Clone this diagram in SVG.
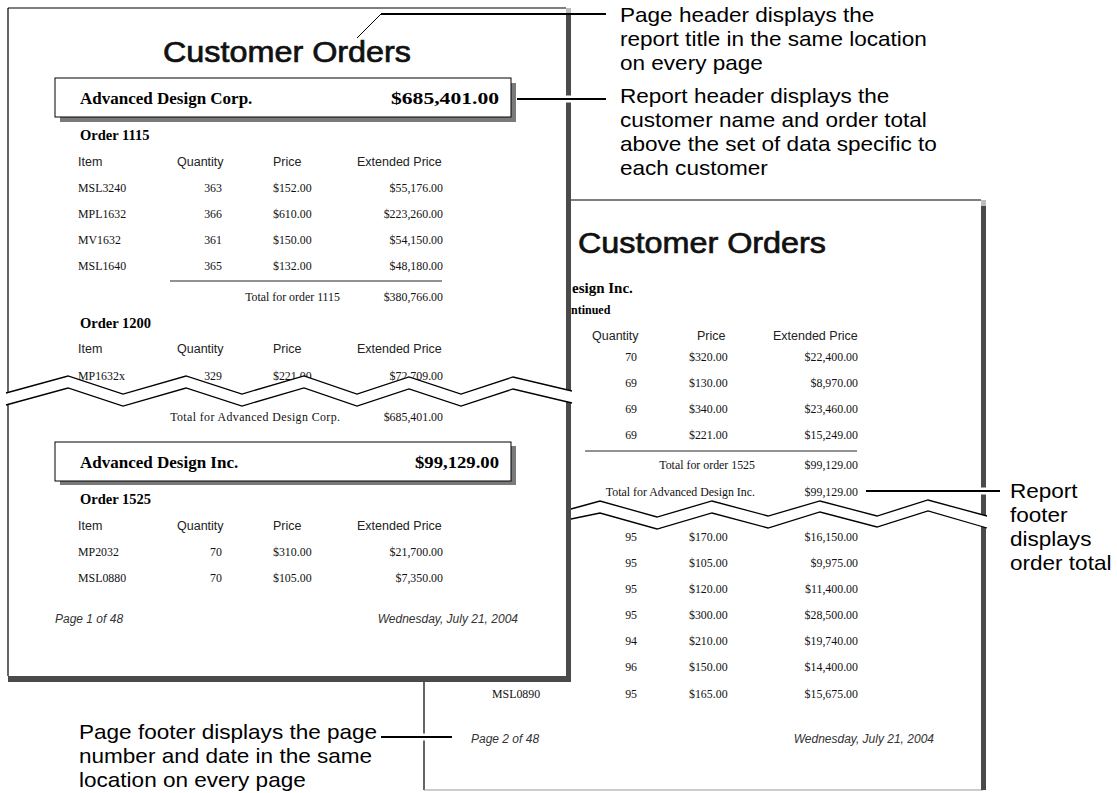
<svg xmlns="http://www.w3.org/2000/svg" width="1117" height="793" viewBox="0 0 1117 793">
<style>
.pg{fill:#fff}
.brd{stroke:#000;stroke-width:1.2;fill:none}
.shd{fill:#4a4a4a}
.lt{fill:#bdbdbd}
.title{font-family:"Liberation Sans",Arial,sans-serif;font-size:29px;fill:#111;stroke:#111;stroke-width:0.7}
.hdr{font-family:"Liberation Serif","Times New Roman",serif;font-weight:bold;font-size:17px;fill:#000}
.ord{font-family:"Liberation Serif","Times New Roman",serif;font-weight:bold;font-size:14.5px;fill:#000}
.cont{font-family:"Liberation Serif","Times New Roman",serif;font-weight:bold;font-size:12px;fill:#000}
.col{font-family:"Liberation Sans",Arial,sans-serif;font-size:12.5px;fill:#222}
.dat{font-family:"Liberation Serif","Times New Roman",serif;font-size:13.5px;fill:#111}
.e{text-anchor:end}
.ft{font-family:"Liberation Sans",Arial,sans-serif;font-style:italic;font-size:12px;fill:#333}
.rule{stroke:#6e6e6e;stroke-width:1.6}
.zz{fill:none;stroke:#000;stroke-width:1.3}
.gap{fill:#fff;stroke:none}
.box{fill:#fff;stroke:#000;stroke-width:1}
.bsh{fill:#7a7a7a}
.call{font-family:"Liberation Sans",Arial,sans-serif;font-size:20.5px;fill:#000}
.cl{stroke:#000;stroke-width:1.8;fill:none}
.halo{stroke:#fff;stroke-width:7;fill:none}
</style>

<g id="page2">
  <rect class="pg" x="424" y="200" width="557" height="590"/>
  <path class="brd" d="M424,200 H981 M424,200 V790"/>
  <line x1="424" y1="790" x2="983" y2="790" stroke="#9a9a9a" stroke-width="1.2"/>
  <rect class="lt" x="981" y="200" width="5" height="6"/>
  <rect class="shd" x="981" y="206" width="5" height="584"/>
  <text class="title" x="578" y="253" textLength="248" lengthAdjust="spacingAndGlyphs">Customer Orders</text>
  <text class="ord" x="572" y="293" style="font-size:15px">esign Inc.</text>
  <text class="cont" x="571" y="314">ntinued</text>
  <text class="col" x="592" y="340">Quantity</text>
  <text class="col" x="697" y="340">Price</text>
  <text class="col" x="773" y="340">Extended Price</text>
  <g class="dat" transform="scale(0.88,1)">
    <text class="e" x="723.86" y="361">70</text><text x="782.95" y="361">$320.00</text><text class="e" x="975" y="361">$22,400.00</text>
    <text class="e" x="723.86" y="387">69</text><text x="782.95" y="387">$130.00</text><text class="e" x="975" y="387">$8,970.00</text>
    <text class="e" x="723.86" y="413">69</text><text x="782.95" y="413">$340.00</text><text class="e" x="975" y="413">$23,460.00</text>
    <text class="e" x="723.86" y="439">69</text><text x="782.95" y="439">$221.00</text><text class="e" x="975" y="439">$15,249.00</text>
    <text class="e" x="857.95" y="469">Total for order 1525</text><text class="e" x="975" y="469">$99,129.00</text>
    <text class="e" x="857.95" y="496">Total for Advanced Design Inc.</text><text class="e" x="975" y="496">$99,129.00</text>
    <text class="e" x="723.86" y="541">95</text><text x="782.95" y="541">$170.00</text><text class="e" x="975" y="541">$16,150.00</text>
    <text class="e" x="723.86" y="567">95</text><text x="782.95" y="567">$105.00</text><text class="e" x="975" y="567">$9,975.00</text>
    <text class="e" x="723.86" y="593">95</text><text x="782.95" y="593">$120.00</text><text class="e" x="975" y="593">$11,400.00</text>
    <text class="e" x="723.86" y="619">95</text><text x="782.95" y="619">$300.00</text><text class="e" x="975" y="619">$28,500.00</text>
    <text class="e" x="723.86" y="645">94</text><text x="782.95" y="645">$210.00</text><text class="e" x="975" y="645">$19,740.00</text>
    <text class="e" x="723.86" y="671">96</text><text x="782.95" y="671">$150.00</text><text class="e" x="975" y="671">$14,400.00</text>
    <text x="559.09" y="698">MSL0890</text><text class="e" x="723.86" y="698">95</text><text x="782.95" y="698">$165.00</text><text class="e" x="975" y="698">$15,675.00</text>
  </g>
  <line class="rule" x1="585" y1="451" x2="857" y2="451"/>
  <text class="ft" x="471" y="743">Page 2 of 48</text>
  <text class="ft e" x="934" y="743">Wednesday, July 21, 2004</text>
  <polygon class="gap" points="571,509 600,501 657,517 712,501 768,516 820,501 877,516 928,500 988,516 988,528 928,511 877,527 820,512 768,528 712,513 657,529 600,513 571,519"/>
  <polyline class="zz" points="571,509 600,501 657,517 712,501 768,516 820,501 877,516 928,500 987,516"/>
  <polyline class="zz" points="571,519 600,513 657,529 712,513 768,528 820,512 877,527 928,511 987,528"/>
</g>

<g id="page1">
  <rect class="pg" x="8" y="8" width="558" height="668"/>
  <path class="brd" d="M8,8 H566 M8,8 V676"/>
  <rect class="lt" x="566" y="8" width="5" height="6"/>
  <rect class="shd" x="566" y="14" width="5" height="668"/>
  <rect class="shd" x="8" y="676" width="563" height="6"/>
  <text class="title" x="163" y="62" textLength="248" lengthAdjust="spacingAndGlyphs">Customer Orders</text>
  <rect class="bsh" x="60" y="83" width="456" height="39"/>
  <rect class="box" x="55" y="78" width="456" height="39"/>
  <text class="hdr" x="80" y="104">Advanced Design Corp.</text>
  <text class="hdr e" x="499" y="104" textLength="108" lengthAdjust="spacingAndGlyphs">$685,401.00</text>
  <text class="ord" x="80" y="140">Order 1115</text>
  <text class="col" x="78" y="166">Item</text>
  <text class="col" x="177" y="166">Quantity</text>
  <text class="col" x="273" y="166">Price</text>
  <text class="col" x="357" y="166">Extended Price</text>
  <g class="dat" transform="scale(0.88,1)">
    <text x="88.64" y="192">MSL3240</text><text class="e" x="252.27" y="192">363</text><text x="310.23" y="192">$152.00</text><text class="e" x="503.41" y="192">$55,176.00</text>
    <text x="88.64" y="218">MPL1632</text><text class="e" x="252.27" y="218">366</text><text x="310.23" y="218">$610.00</text><text class="e" x="503.41" y="218">$223,260.00</text>
    <text x="88.64" y="244">MV1632</text><text class="e" x="252.27" y="244">361</text><text x="310.23" y="244">$150.00</text><text class="e" x="503.41" y="244">$54,150.00</text>
    <text x="88.64" y="270">MSL1640</text><text class="e" x="252.27" y="270">365</text><text x="310.23" y="270">$132.00</text><text class="e" x="503.41" y="270">$48,180.00</text>
    <text class="e" x="386.36" y="301">Total for order 1115</text><text class="e" x="503.41" y="301">$380,766.00</text>
    <text x="88.64" y="380">MP1632x</text><text class="e" x="252.27" y="380">329</text><text x="310.23" y="380">$221.00</text><text class="e" x="503.41" y="380">$72,709.00</text>
    <text class="e" x="386.36" y="421" textLength="193">Total for Advanced Design Corp.</text><text class="e" x="503.41" y="421">$685,401.00</text>
    <text x="88.64" y="556">MP2032</text><text class="e" x="252.27" y="556">70</text><text x="310.23" y="556">$310.00</text><text class="e" x="503.41" y="556">$21,700.00</text>
    <text x="88.64" y="582">MSL0880</text><text class="e" x="252.27" y="582">70</text><text x="310.23" y="582">$105.00</text><text class="e" x="503.41" y="582">$7,350.00</text>
  </g>
  <line class="rule" x1="170" y1="281" x2="442" y2="281"/>
  <text class="ord" x="80" y="328">Order 1200</text>
  <text class="col" x="78" y="353">Item</text>
  <text class="col" x="177" y="353">Quantity</text>
  <text class="col" x="273" y="353">Price</text>
  <text class="col" x="357" y="353">Extended Price</text>
  <rect class="bsh" x="60" y="446" width="456" height="39"/>
  <rect class="box" x="55" y="442" width="456" height="39"/>
  <text class="hdr" x="80" y="468">Advanced Design Inc.</text>
  <text class="hdr e" x="499" y="468" textLength="84" lengthAdjust="spacingAndGlyphs">$99,129.00</text>
  <text class="ord" x="80" y="504">Order 1525</text>
  <text class="col" x="78" y="530">Item</text>
  <text class="col" x="177" y="530">Quantity</text>
  <text class="col" x="273" y="530">Price</text>
  <text class="col" x="357" y="530">Extended Price</text>
  <text class="ft" x="55" y="623">Page 1 of 48</text>
  <text class="ft e" x="518" y="623">Wednesday, July 21, 2004</text>
  <polygon class="gap" points="4,393 68,376 123,394 186,376 242,394 304,376 357,394 409,377 461,394 513,377 573,391 573,403 513,389 461,406 409,389 357,406 304,388 242,406 186,388 123,406 68,388 4,405"/>
  <polyline class="zz" points="6,393 68,376 123,394 186,376 242,394 304,376 357,394 409,377 461,394 513,377 572,391"/>
  <polyline class="zz" points="6,405 68,388 123,406 186,388 242,406 304,388 357,406 409,389 461,406 513,389 572,403"/>
</g>

<g id="connectors">
  <path d="M357,38 L381,14" stroke="#000" stroke-width="1" fill="none"/>
  <path class="cl" d="M381,14 H606"/>
  <path class="halo" d="M560,99 H578"/>
  <path class="cl" d="M517,99 H606"/>
  <path class="halo" d="M975,491 H992"/>
  <path class="cl" d="M866,491 H1000"/>
  <path class="halo" d="M418,737 H430"/>
  <path class="cl" d="M381,737 H452"/>
</g>

<g id="callout-page-header">
  <text class="call" transform="translate(620,22) scale(1.1,1)"><tspan x="0" y="0">Page header displays the</tspan><tspan x="0" y="24">report title in the same location</tspan><tspan x="0" y="48">on every page</tspan></text>
</g>
<g id="callout-report-header">
  <text class="call" transform="translate(620,103) scale(1.1,1)"><tspan x="0" y="0">Report header displays the</tspan><tspan x="0" y="24">customer name and order total</tspan><tspan x="0" y="48">above the set of data specific to</tspan><tspan x="0" y="72">each customer</tspan></text>
</g>
<g id="callout-report-footer">
  <text class="call" transform="translate(1010,498) scale(1.1,1)"><tspan x="0" y="0">Report</tspan><tspan x="0" y="24">footer</tspan><tspan x="0" y="48">displays</tspan><tspan x="0" y="72">order total</tspan></text>
</g>
<g id="callout-page-footer">
  <text class="call" transform="translate(79,739) scale(1.1,1)"><tspan x="0" y="0">Page footer displays the page</tspan><tspan x="0" y="24">number and date in the same</tspan><tspan x="0" y="48">location on every page</tspan></text>
</g>
</svg>
